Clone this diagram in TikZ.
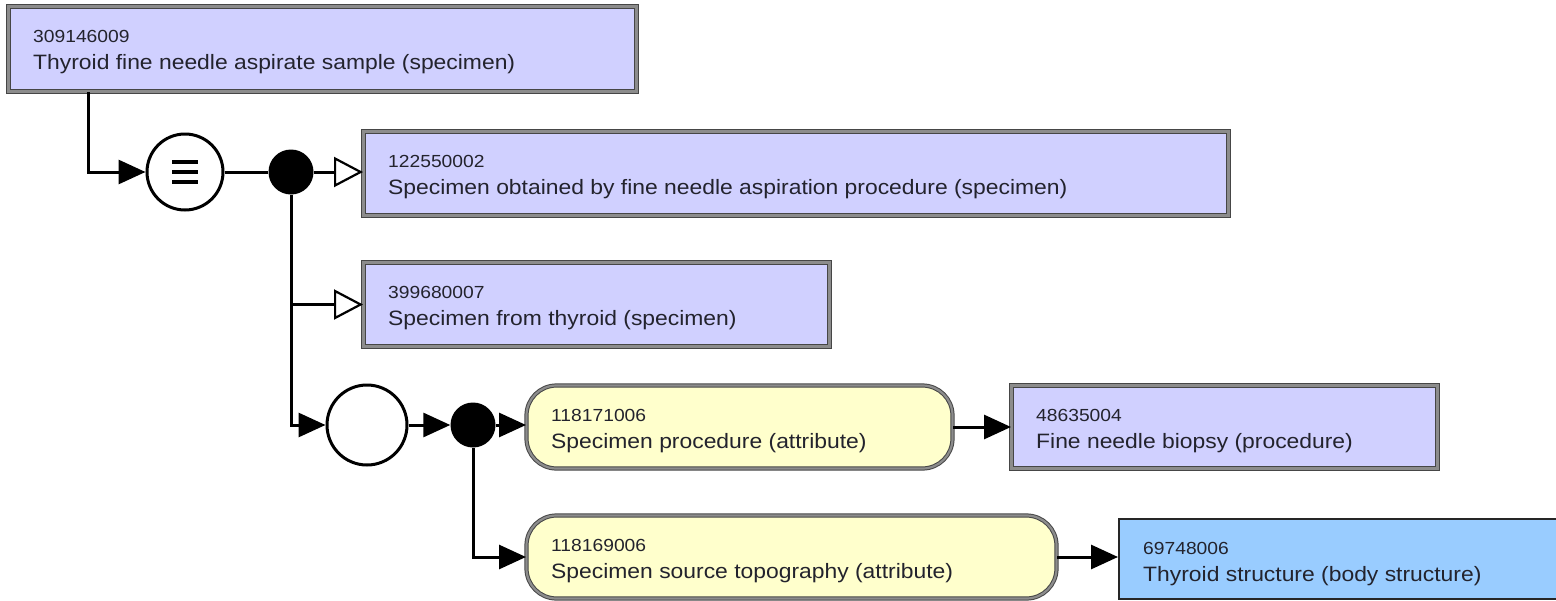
\documentclass[tikz,border=0pt]{standalone}
\usepackage{fontspec}
\newfontfamily\lblfont[FakeStretch=1.1]{Liberation Sans}
\usetikzlibrary{arrows.meta,calc}
\definecolor{lav}{RGB}{208,208,255}
\definecolor{yel}{RGB}{255,255,204}
\definecolor{sky}{RGB}{153,204,255}
\definecolor{txt}{RGB}{35,35,45}
\definecolor{bord}{RGB}{70,70,70}
\definecolor{bordin}{RGB}{140,140,140}
\tikzset{
  conceptbox/.style={rectangle, draw=bord, double=bordin, double distance=2.2pt, line width=1pt, fill=lav, inner sep=0pt},
  attrbox/.style={conceptbox, fill=yel, rounded corners=30pt},
  bodybox/.style={rectangle, draw=black!85, line width=2.2pt, fill=sky, inner sep=0pt},
  numtxt/.style={font=\lblfont\fontsize{17.5}{20}\selectfont, text=txt, inner sep=0pt},
  nametxt/.style={font=\lblfont\fontsize{20.8}{24}\selectfont, text=txt, inner sep=0pt},
  opcircle/.style={circle, draw=black, line width=3pt, fill=white, inner sep=0pt, minimum size=#1},
  blackdot/.style={circle, fill=black, inner sep=0pt, minimum size=45pt},
  conn/.style={line width=3pt, draw=black},
  filltip/.style={-{Triangle[length=27pt,width=24pt]}},
  opentip/.style={-{Triangle[open,length=29pt,width=30pt,fill=white,line width=2.2pt]}},
}
\newcommand\cbox[8]{%
  \node[#6, anchor=north west, minimum width=#4pt, minimum height=#5pt] (#1) at (#2,#3) {};
  \node[numtxt, anchor=base west] (#1n) at ($(#1.north west)+(25,36)$) {#7};
  \node[nametxt, anchor=base west] (#1t) at ($(#1.north west)+(25,63)$) {#8};
}
\begin{document}
\begin{tikzpicture}[x=1pt,y=-1pt]
\useasboundingbox (0,0) rectangle (1556,600);
\fill[white] (0,0) rectangle (1556,600);
% concept boxes
\cbox{b1}{8}{6}{628}{85}{conceptbox}{309146009}{Thyroid fine needle aspirate sample (specimen)}
\cbox{b2}{363}{131}{865}{84}{conceptbox}{122550002}{Specimen obtained by fine needle aspiration procedure (specimen)}
\cbox{b3}{363}{262}{466}{84}{conceptbox}{399680007}{Specimen from thyroid (specimen)}
\cbox{y1}{526}{385}{426}{83}{attrbox}{118171006}{Specimen procedure (attribute)}
\cbox{y2}{526}{515}{530}{83}{attrbox}{118169006}{Specimen source topography (attribute)}
\cbox{b4}{1011}{385}{426}{83}{conceptbox}{48635004}{Fine needle biopsy (procedure)}
\cbox{b5}{1118}{518}{450}{80}{bodybox}{69748006}{Thyroid structure (body structure)}
% operators
\node[opcircle=76pt] (eq) at (185,172) {};
\draw[line width=3.4pt] ($(eq)+(-13,-10)$) -- ($(eq)+(13,-10)$)
                        ($(eq)+(-13,0)$) -- ($(eq)+(13,0)$)
                        ($(eq)+(-13,10)$) -- ($(eq)+(13,10)$);
\node[blackdot] (d1) at (291,172) {};
\node[opcircle=80pt] (wc) at (367,425) {};
\node[blackdot] (d2) at (473,425) {};
\coordinate (s1) at ($(b1.south west)+(80,0)$);
% connectors
\draw[conn, filltip] (s1) |- (eq.west);
\draw[conn] (eq.east) -- (d1.west);
\draw[conn, opentip] (d1.east) -- (b2.west |- d1.east);
\draw[conn, opentip] (d1.south) |- (b3.west);
\draw[conn, filltip] (d1.south) |- (wc.west);
\draw[conn, filltip] (wc.east) -- (d2.west);
\draw[conn, filltip] (d2.east) -- (y1.west |- d2.east);
\draw[conn, filltip] (d2.south) |- (y2.west);
\draw[conn, filltip] (y1.east) -- (b4.west |- y1.east);
\draw[conn, filltip] (y2.east) -- (b5.west |- y2.east);
\end{tikzpicture}
\end{document}
